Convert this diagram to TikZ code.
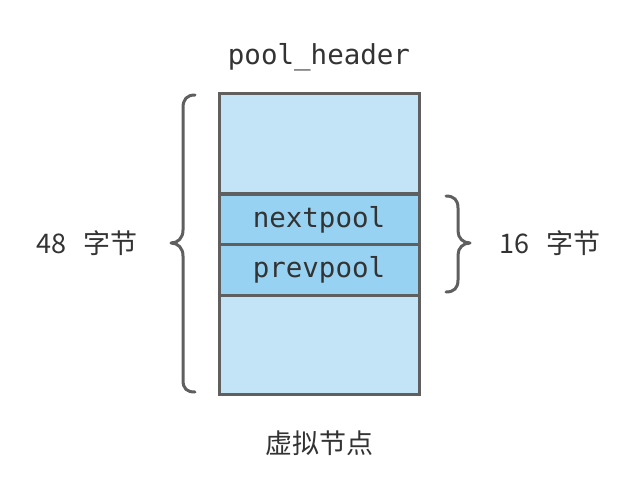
\documentclass[tikz,border=0pt]{standalone}
\usepackage{fontspec}
\setmonofont{DejaVu Sans Mono}
\newfontfamily\cjk{Noto Sans CJK SC}
\definecolor{lineg}{HTML}{5F5F5F}
\definecolor{txt}{HTML}{333333}
\definecolor{lightb}{HTML}{C2E4F6}
\definecolor{midb}{HTML}{98D2F2}
\begin{document}
\begin{tikzpicture}[x=1pt,y=-1pt,
  cell/.style={draw=lineg,line width=3pt,minimum width=200pt,inner sep=0pt,outer sep=0pt},
  mono/.style={font=\ttfamily\fontsize{27.5}{32}\selectfont,text=txt},
  cjklabel/.style={font=\cjk\fontsize{27}{32}\selectfont,text=txt},
  bracepath/.style={draw=lineg,line width=3pt,line cap=round,line join=round}]
\useasboundingbox (0,0) rectangle (620,501);
\node[cell,fill=lightb,minimum height=100pt] (top) at (319,143) {};
\node[cell,fill=lightb,minimum height=100pt] (bottom) at (319,344) {};
\node[cell,fill=midb,minimum height=50pt,mono] (next) at (319,219.5) {nextpool};
\node[cell,fill=midb,minimum height=51pt,mono] (prev) at (319,269.5) {prevpool};
\node[mono] (hdr) at (319,57) {pool\_header};
\node[cjklabel] (l48) at (87,243) {48\hspace{0.6em}字节};
\node[cjklabel] (l16) at (550,243) {16\hspace{0.6em}字节};
\node[cjklabel] (virt) at (319,443) {虚拟节点};
% left brace
\draw[bracepath] (195,95) .. controls (187,95) and (183,99) .. (183,108)
  -- (183,230) .. controls (183,238) and (178,243) .. (171,243)
  .. controls (178,243) and (183,248) .. (183,256)
  -- (183,380) .. controls (183,389) and (187,392) .. (195,392);
% right brace
\draw[bracepath] (446,196) .. controls (454,196) and (458,200) .. (458,208)
  -- (458,231) .. controls (458,238) and (463,243) .. (470,243)
  .. controls (463,243) and (458,248) .. (458,255)
  -- (458,280) .. controls (458,288) and (454,292) .. (446,292);
\end{tikzpicture}
\end{document}
